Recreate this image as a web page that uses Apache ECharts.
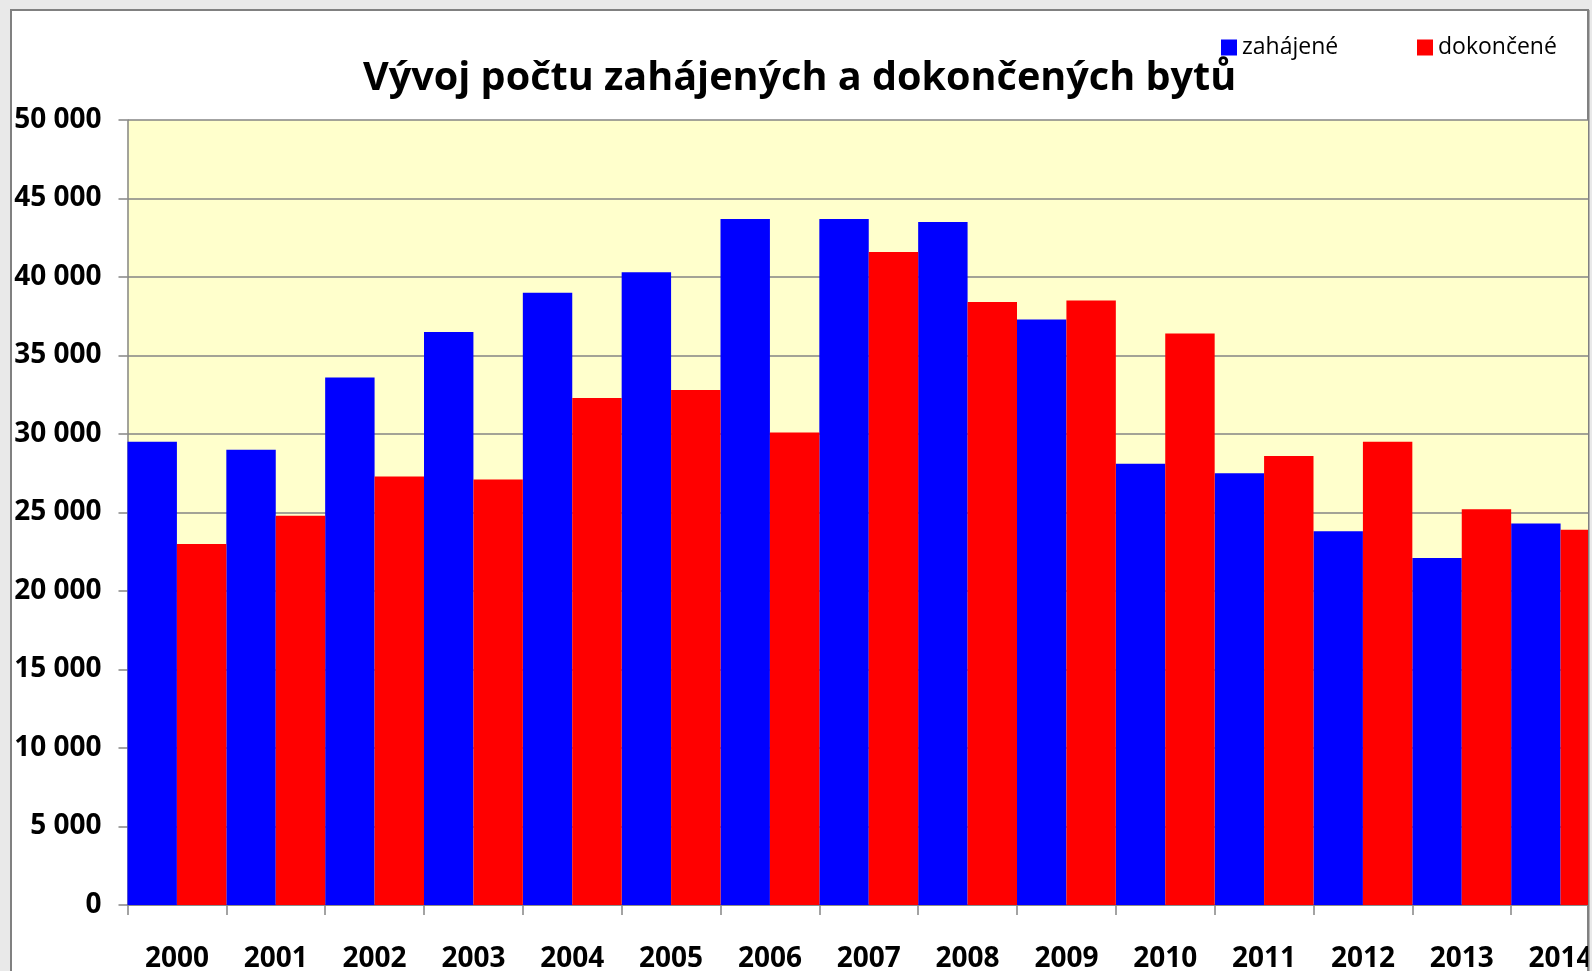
<!DOCTYPE html>
<html>
<head>
<meta charset="utf-8">
<script src="https://cdn.jsdelivr.net/npm/echarts@6/dist/echarts.min.js"></script>
<style>
  html, body { margin: 0; padding: 0; background: #e9e9e9; }
  #chart { width: 1592px; height: 971px; }
</style>
</head>
<body>
<div id="chart"></div>
<script>
// roky a hodnoty
const years = ['2000', '2001', '2002', '2003', '2004', '2005', '2006', '2007',
  '2008', '2009', '2010', '2011', '2012', '2013', '2014']
const zahajene = [29500, 29000, 33600, 36500, 39000, 40300, 43700, 43700,
  43500, 37300, 28100, 27500, 23800, 22100, 24300]
const dokoncene = [23000, 24800, 27300, 27100, 32300, 32800, 30100, 41600,
  38400, 38500, 36400, 28600, 29500, 25200, 23900]

const font = '"Open Sans", "DejaVu Sans", sans-serif'
const gray = '#858585'

const legendText = {
  fontFamily: font,
  fontSize: 23,
  color: '#000'
}

const chart = echarts.init(document.getElementById('chart'))
const option = {
  backgroundColor: '#e9e9e9',
  animation: false,
  graphic: [
    {
      // rámeček grafu
      type: 'rect',
      z: -100,
      shape: {x: 11, y: 10, width: 1577, height: 1000},
      style: {fill: '#ffffff', stroke: '#808080', lineWidth: 2}
    },
    {
      // pravý okraj - graf je oříznutý
      type: 'rect',
      z: 100,
      shape: {x: 1589, y: 0, width: 10, height: 971},
      style: {fill: '#e9e9e9'}
    },
    {
      type: 'rect',
      z: 101,
      shape: {x: 1588, y: 10, width: 1.5, height: 971},
      style: {fill: '#808080'}
    }
  ],
  title: {
    text: 'Vývoj počtu zahájených a dokončených bytů',
    left: 363,
    top: 59,
    padding: 0,
    textStyle: {
      fontFamily: font,
      fontWeight: 'bold',
      fontSize: 39.6,
      color: '#000'
    }
  },
  legend: [
    {
      data: ['zahájené'],
      left: 1221,
      top: 36,
      padding: 0,
      icon: 'rect',
      itemWidth: 16,
      itemHeight: 16,
      itemGap: 5,
      textStyle: legendText
    },
    {
      data: ['dokončené'],
      left: 1417,
      top: 36,
      padding: 0,
      icon: 'rect',
      itemWidth: 16,
      itemHeight: 16,
      itemGap: 5,
      textStyle: legendText
    }
  ],
  grid: {
    show: true,
    left: 127.5,
    top: 120,
    bottom: 66,
    width: 1482.5,
    outerBoundsMode: 'none',
    backgroundColor: '#FFFFCC',
    borderWidth: 0,
    containLabel: false
  },
  xAxis: {
    type: 'category',
    data: years,
    axisLine: {show: true, lineStyle: {color: gray, width: 1.5}},
    axisTick: {show: true, length: 10, lineStyle: {color: gray, width: 1.5}},
    axisLabel: {
      margin: 40,
      fontFamily: font,
      fontWeight: 'bold',
      fontSize: 28,
      color: '#000'
    }
  },
  yAxis: {
    type: 'value',
    min: 0,
    max: 50000,
    interval: 5000,
    axisLine: {show: true, lineStyle: {color: gray, width: 1.5}},
    axisTick: {show: true, inside: false, length: 9, lineStyle: {color: gray, width: 1.5}},
    splitLine: {show: true, lineStyle: {color: gray, width: 1.5}},
    axisLabel: {
      margin: 26,
      fontFamily: font,
      fontWeight: 'bold',
      fontSize: 28,
      color: '#000',
      formatter: function (v) {
        return v === 0 ? '0' : String(v).replace(/\B(?=(\d{3})+(?!\d))/g, ' ')
      }
    }
  },
  series: [
    {
      name: 'zahájené',
      type: 'bar',
      barGap: '0%',
      barCategoryGap: '0%',
      data: zahajene,
      itemStyle: {color: '#0000FF'}
    },
    {
      name: 'dokončené',
      type: 'bar',
      barGap: '0%',
      barCategoryGap: '0%',
      data: dokoncene,
      itemStyle: {color: '#FF0000'}
    }
  ]
}
chart.setOption(option)
</script>
</body>
</html>
